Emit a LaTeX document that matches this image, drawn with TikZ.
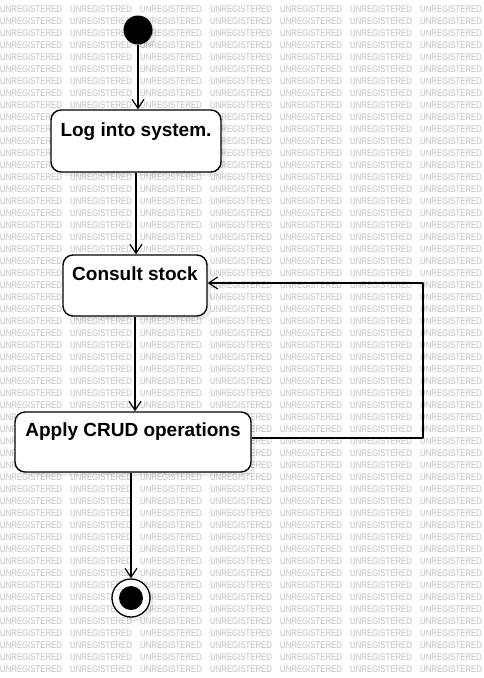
\documentclass[tikz,border=0pt]{standalone}
\usepackage{fontspec}
\setmainfont{Liberation Sans}
\usetikzlibrary{arrows.meta,shadows}
\begin{document}
\begin{tikzpicture}[x=1pt,y=-1pt,>={Straight Barb[length=9pt,width=12pt]}, line join=round,
	wm/.style={anchor=west,inner sep=0pt,xscale=0.81,text=black!25,font=\fontsize{9.6}{10}\selectfont},
	state/.style={draw,line width=1.4pt,rounded corners=10pt,fill=white,
		drop shadow={shadow xshift=4pt,shadow yshift=-4pt,fill=black,opacity=0.07}},
	lbl/.style={anchor=north,inner sep=0pt,font=\bfseries\fontsize{19}{22}\selectfont},
	flow/.style={->,line width=1.2pt}]
	\useasboundingbox[fill=white] (0,0) rectangle (484,678);
	% watermark
	\foreach \r in {0,...,55}
		\foreach \c in {0,...,6}
			\node[wm] (wm\r-\c) at (70*\c,9+12*\r) {UNREGISTERED};
	% states
	\node[circle,fill=black,minimum size=29pt,inner sep=0pt,
		drop shadow={shadow xshift=4pt,shadow yshift=-4pt,fill=black,opacity=0.07}] (init) at (138,30) {};
	\node[state,minimum width=170pt,minimum height=62pt] (log) at (136,141) {};
	\node[lbl] (logtxt) at ([yshift=-13pt]log.north) {Log into system.};
	\node[state,minimum width=144pt,minimum height=61pt] (consult) at (135,285.5) {};
	\node[lbl] (consulttxt) at ([yshift=-12pt]consult.north) {Consult stock};
	\node[state,minimum width=236pt,minimum height=60pt] (apply) at (133,442) {};
	\node[lbl] (applytxt) at ([yshift=-11pt]apply.north) {Apply CRUD operations};
	\node[circle,draw,line width=1.3pt,fill=white,minimum size=38pt,inner sep=0pt,
		drop shadow={shadow xshift=4pt,shadow yshift=-4pt,fill=black,opacity=0.07}] (final) at (131,598) {};
	\node[circle,fill=black,minimum size=24pt,inner sep=0pt] (finaldot) at (final) {};
	% transitions
	\draw[flow] (init) -- (init |- log.north);
	\draw[flow] (log) -- (log |- consult.north);
	\draw[flow] (consult) -- (consult |- apply.north);
	\draw[flow] (apply.south -| final) -- (final);
	\coordinate (loopc) at (423,283);
	\draw[flow] ([yshift=4pt]apply.east) -| (loopc) -- (consult.east |- loopc);
\end{tikzpicture}
\end{document}
